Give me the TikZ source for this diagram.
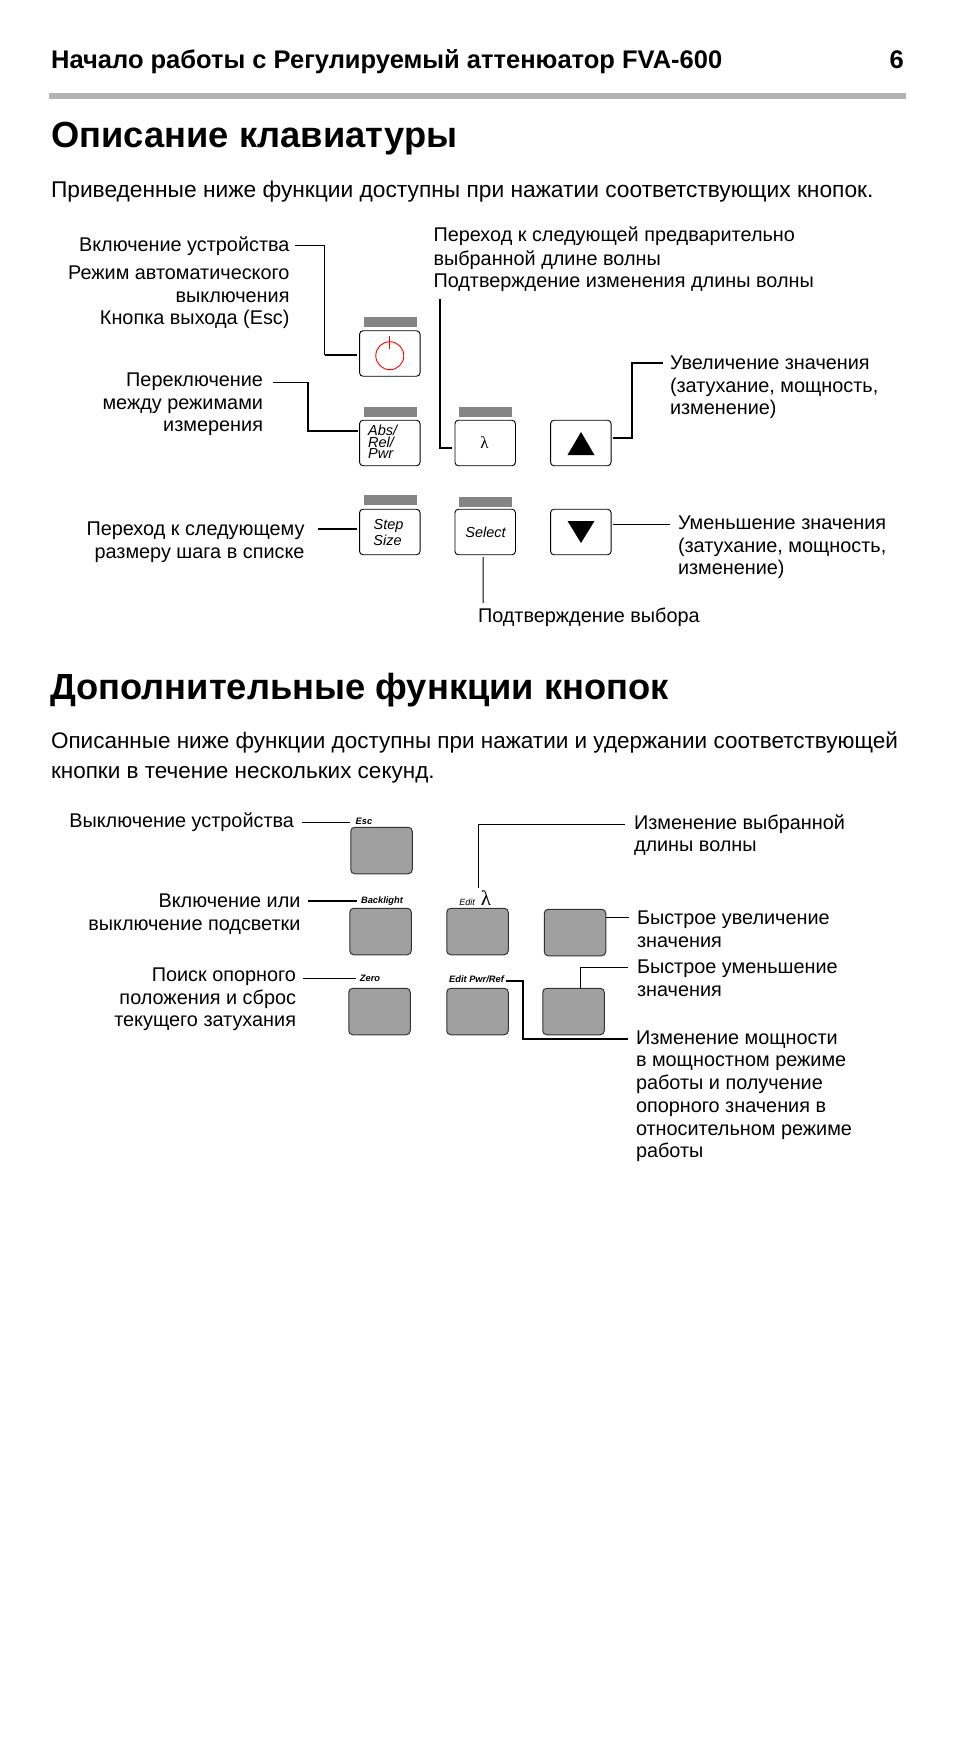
\documentclass[tikz,border=0pt]{standalone}
\usepackage{fontspec}
\setmainfont{Liberation Sans}
\newfontfamily\serifgreek{Liberation Serif}
\usetikzlibrary{calc}
\definecolor{barc}{HTML}{858585}
\definecolor{rulec}{HTML}{B3B3B3}
\definecolor{keyc}{HTML}{A0A0A0}
\definecolor{edgec}{HTML}{333333}
\tikzset{
  x=1pt,y=-1pt,
  txt/.style={inner sep=0pt,outer sep=0pt,font=\fontsize{19.85}{22}\selectfont,text=black},
  lft/.style={txt,anchor=base west},
  rgt/.style={txt,anchor=base east},
  para/.style={inner sep=0pt,outer sep=0pt,anchor=base west,font=\fontsize{22.5}{25}\selectfont},
  paraw/.style={inner sep=0pt,outer sep=0pt,anchor=base west,font=\fontsize{22.75}{25}\selectfont},
  headtxt/.style={inner sep=0pt,anchor=base west,font=\fontsize{25.5}{28}\bfseries\selectfont},
  htitle/.style={inner sep=0pt,anchor=base west,font=\fontsize{36.3}{40}\bfseries\selectfont},
  keybtn/.style={draw=black,line width=0.9pt,fill=white,rounded corners=3.5pt,minimum width=60.5pt,minimum height=45.5pt,inner sep=0pt},
  graybtn/.style={draw=edgec,line width=1pt,fill=keyc,rounded corners=4pt,minimum width=61.5pt,minimum height=46.5pt,inner sep=0pt},
  ledbar/.style={fill=barc,minimum width=53pt,minimum height=10pt,inner sep=0pt},
  conn/.style={draw=black,line width=1pt},
  connb/.style={draw=black,line width=1.7pt},
  keytxt/.style={inner sep=0pt,anchor=base,font=\fontsize{14.5}{14}\itshape\selectfont},
  smalltxt/.style={inner sep=0pt,anchor=base,font=\fontsize{9.3}{10}\bfseries\itshape\selectfont},
}
\begin{document}
\begin{tikzpicture}
\useasboundingbox (0,0) rectangle (954,1738);
\fill[white] (0,0) rectangle (954,1738);

% header
\node[headtxt] (title) at (51,68) {Начало работы с Регулируемый аттенюатор FVA-600};
\node[headtxt,anchor=base east] (pagen) at (904,68) {6};
\fill[rulec] (49,93) rectangle (906,99);
\node[htitle] (h1) at (51,147) {Описание клавиатуры};
\node[paraw] (intro) at (51,197) {Приведенные ниже функции доступны при нажатии соответствующих кнопок.};

% keys, section 1
\node[ledbar] (barPower) at (390,322) {};
\node[ledbar] (barAbs) at (390,412) {};
\node[ledbar] (barLam) at (485,412) {};
\node[ledbar] (barStep) at (390,500) {};
\node[ledbar] (barSel) at (485,502) {};
\node[keybtn] (kPower) at (389.8,353.5) {};
\node[keybtn] (kAbs) at (389.8,443) {};
\node[keybtn] (kLam) at (485.2,443) {};
\node[keybtn] (kUp) at (580.8,443) {};
\node[keybtn] (kStep) at (389.8,532) {};
\node[keybtn] (kSel) at (485.2,532) {};
\node[keybtn] (kDown) at (580.8,532) {};

\draw[red,line width=0.9pt] (389.8,355.7) circle (14);
\draw[red,line width=0.8pt] (389.8,336) -- (389.8,349);
\fill[black] (567.5,455) -- (594.5,455) -- (581,432) -- cycle;
\fill[black] (567.5,521) -- (594.5,521) -- (581,543) -- cycle;

\node[keytxt,anchor=base west] (tAbs) at (368,435) {Abs/};
\node[keytxt,anchor=base west] (tRel) at (368,447) {Rel/};
\node[keytxt,anchor=base west] (tPwr) at (368,458.5) {Pwr};
\node[keytxt] (tStep) at (388.5,529) {Step};
\node[keytxt] (tSize) at (387.5,545) {Size};
\node[keytxt] (tSel) at (485.5,537) {Select};
\node[inner sep=0pt,anchor=base,font=\fontsize{17}{17}\serifgreek\selectfont] (tLam) at (484.5,448) {λ};

% labels, section 1
\node[rgt] (lOn) at (289.5,251) {Включение устройства};
\node[rgt] (lAuto) at (289.5,279) {Режим автоматического};
\node[rgt] (lAuto2) at (289.5,302) {выключения};
\node[rgt] (lEsc) at (289.5,324) {Кнопка выхода (Esc)};
\node[rgt] (lMode) at (263,386) {Переключение};
\node[rgt] (lMode2) at (263,409) {между режимами};
\node[rgt] (lMode3) at (263,431) {измерения};
\node[lft] (lNext) at (433.5,241) {Переход к следующей предварительно};
\node[lft] (lNext2) at (433.5,265) {выбранной длине волны};
\node[lft] (lNext3) at (433.5,287) {Подтверждение изменения длины волны};
\node[lft] (lInc) at (670,369) {Увеличение значения};
\node[lft] (lInc2) at (670,392) {(затухание, мощность,};
\node[lft] (lInc3) at (670,414) {изменение)};
\node[rgt] (lStep) at (304.5,535) {Переход к следующему};
\node[rgt] (lStep2) at (304.5,558) {размеру шага в списке};
\node[lft] (lDec) at (678,529) {Уменьшение значения};
\node[lft] (lDec2) at (678,552) {(затухание, мощность,};
\node[lft] (lDec3) at (678,574) {изменение)};
\node[lft] (lSel) at (478,622) {Подтверждение выбора};

% connectors, section 1
\coordinate (aOn) at (295,245);
\coordinate (aOnB) at (324.5,355);
\coordinate (aMode) at (273,382);
\coordinate (aModeB) at (308,431);
\coordinate (aLam) at (440,299);
\coordinate (aInc) at (663,363);
\coordinate (aIncB) at (632,400);
\coordinate (aDec) at (670,524);
\coordinate (aStep) at (318,529);
\coordinate (aSel) at (483,603);
\draw[conn] (aOn) -| (aOnB);
\draw[connb] (aOnB) -- ([yshift=-1.5pt,xshift=-2pt]kPower.west);
\draw[conn] (aMode) -- (aMode -| aModeB);
\draw[connb] (aMode -| aModeB) |- ([yshift=12pt,xshift=-1pt]kAbs.west);
\draw[connb] (aLam) |- ([yshift=-5pt,xshift=-3pt]kLam.west);
\draw[connb] (aInc) -| (aIncB) |- ([yshift=5pt,xshift=1pt]kUp.east);
\draw[conn] (aDec) -- ([yshift=8pt,xshift=1pt]kDown.east);
\draw[connb] (aStep) -- ([yshift=3pt,xshift=-2pt]kStep.west);
\draw[conn] (aSel) -- ([yshift=-2pt,xshift=-2pt]kSel.south);

% section 2
\node[htitle] (h2) at (50,699) {Дополнительные функции кнопок};
\node[para] (p1) at (51,748.5) {Описанные ниже функции доступны при нажатии и удержании соответствующей};
\node[para] (p2) at (51,778) {кнопки в течение нескольких секунд.};

\node[graybtn] (gEsc) at (381.5,850.5) {};
\node[graybtn] (gBack) at (380.5,931.5) {};
\node[graybtn] (gLam) at (477.5,931.5) {};
\node[graybtn] (gUp) at (575,932.5) {};
\node[graybtn] (gZero) at (379.5,1011.5) {};
\node[graybtn] (gPwr) at (477.5,1011.5) {};
\node[graybtn] (gDown) at (573.5,1011.5) {};

\node[smalltxt] (sEsc) at (364,824) {Esc};
\node[smalltxt] (sBack) at (382,903) {Backlight};
\node[inner sep=0pt,anchor=base,font=\fontsize{9}{10}\itshape\selectfont] (sEdit) at (467,905) {Edit};
\node[inner sep=0pt,anchor=base,font=\fontsize{21}{21}\serifgreek\selectfont] (sLam) at (486,905) {λ};
\node[smalltxt] (sZero) at (370,981) {Zero};
\node[smalltxt] (sPwr) at (476.5,982) {Edit Pwr/Ref};

\node[rgt] (mOff) at (294,827) {Выключение устройства};
\node[rgt] (mLight) at (300.5,907) {Включение или};
\node[rgt] (mLight2) at (300.5,930) {выключение подсветки};
\node[rgt] (mZero) at (296,981) {Поиск опорного};
\node[rgt] (mZero2) at (296,1004) {положения и сброс};
\node[rgt] (mZero3) at (296,1026) {текущего затухания};
\node[lft] (mLam) at (634,829) {Изменение выбранной};
\node[lft] (mLam2) at (634,851) {длины волны};
\node[lft] (mUp) at (637,924) {Быстрое увеличение};
\node[lft] (mUp2) at (637,947) {значения};
\node[lft] (mDown) at (637,973) {Быстрое уменьшение};
\node[lft] (mDown2) at (637,996) {значения};
\node[lft] (mPwr) at (636,1044) {Изменение мощности};
\node[lft] (mPwr2) at (636,1066) {в мощностном режиме};
\node[lft] (mPwr3) at (636,1089) {работы и получение};
\node[lft] (mPwr4) at (636,1112) {опорного значения в};
\node[lft] (mPwr5) at (636,1135) {относительном режиме};
\node[lft] (mPwr6) at (636,1157) {работы};

\coordinate (bOff) at (302,822);
\coordinate (bLight) at (308,901);
\coordinate (bZero) at (303,978);
\coordinate (bLam) at (625,824);
\coordinate (bUp) at (629,917);
\coordinate (bDown) at (628,967);
\coordinate (bPwr) at (628,1039);
\coordinate (bLamEnd) at (478,888);
\coordinate (bPwrB) at (523,981);
\draw[conn] (bOff) -- ([xshift=-6pt]sEsc.west |- bOff);
\draw[connb] (bLight) -- ([xshift=-4pt]sBack.west |- bLight);
\draw[conn] (bZero) -- ([xshift=-4pt]sZero.west |- bZero);
\draw[conn] (bLam) -| (bLamEnd);
\draw[conn] (bUp) -- (gUp.east |- bUp);
\draw[conn] (bDown) -| ([xshift=7pt]gDown.north);
\draw[connb] (bPwr) -| (bPwrB) -- ([xshift=2pt]sPwr.east |- bPwrB);
\end{tikzpicture}
\end{document}
